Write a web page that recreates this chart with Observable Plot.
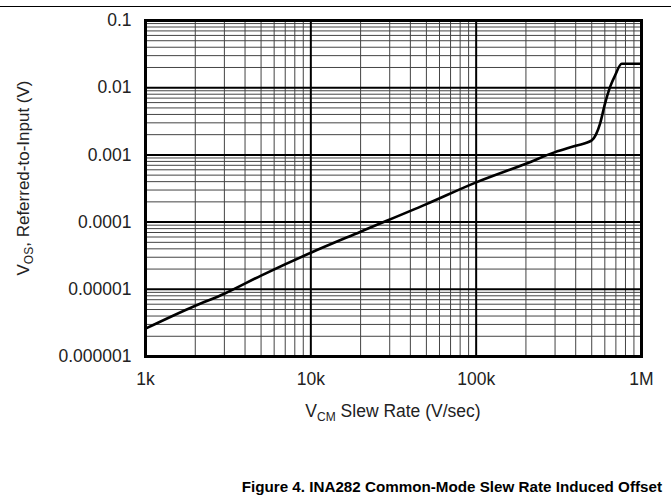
<!DOCTYPE html>
<html>
<head>
<meta charset="utf-8">
<script src="https://cdn.jsdelivr.net/npm/d3@7"></script>
<script src="https://cdn.jsdelivr.net/npm/@observablehq/plot@0.6"></script>
<style>
  html, body { margin: 0; padding: 0; background: #fff; }
  #wrap { position: relative; width: 671px; height: 504px; font-family: "Liberation Sans", Arial, sans-serif; }
  #rule { position: absolute; left: 0; top: 6px; width: 671px; height: 0; border-top: 1.3px solid #000; }
  #chart { position: absolute; left: 0; top: 0; }
  .lbl { position: absolute; font-size: 17px; color: #222; white-space: nowrap; }
  .lbl sub { font-size: 12px; vertical-align: -4px; line-height: 0; }
  #xlabel { left: 393px; top: 401px; font-size: 17.5px; transform: translateX(-50%); }
  #ylabel { left: 24px; top: 178px; transform: translate(-50%, -50%) rotate(-90deg); }
  #title { position: absolute; right: 9px; top: 478px; font-size: 15.2px; font-weight: bold; color: #000; white-space: nowrap; }
</style>
</head>
<body>
<div id="wrap">
  <div id="chart"></div>
  <div id="rule"></div>
  <div class="lbl" id="xlabel">V<sub>CM</sub> Slew Rate (V/sec)</div>
  <div class="lbl" id="ylabel">V<sub>OS</sub>, Referred-to-Input (V)</div>
  <div id="title">Figure 4. INA282 Common-Mode Slew Rate Induced Offset</div>
</div>
<script>
// Slew rate (V/sec)
const slewRate = [1000, 2000, 3000, 5000, 10000, 20000, 50000, 100000, 200000, 300000, 400000, 500000, 530000, 561000, 601000, 645000, 692000, 759000, 1000000];
// Offset referred to input (V)
const vos = [2.6e-6, 5.7e-6, 8.6e-6, 1.6e-5, 3.5e-5, 7.2e-5, 1.85e-4, 3.9e-4, 7.4e-4, 1.1e-3, 1.37e-3, 1.64e-3, 2.0e-3, 2.9e-3, 5.75e-3, 1.02e-2, 1.52e-2, 2.27e-2, 2.27e-2];

const xTicks = [1e3, 1e4, 1e5, 1e6];
const xTickLabels = ["1k", "10k", "100k", "1M"];
const yTicks = [1e-6, 1e-5, 1e-4, 1e-3, 1e-2, 1e-1];
const yTickLabels = ["0.000001", "0.00001", "0.0001", "0.001", "0.01", "0.1"];
const minorMultipliers = [2, 3, 4, 5, 6, 7, 8, 9];

const xMinor = xTicks.slice(0, -1).flatMap(d => minorMultipliers.map(m => d * m));
const yMinor = yTicks.slice(0, -1).flatMap(d => minorMultipliers.map(m => d * m));
const data = slewRate.map((x, i) => ({x, y: vos[i]}));

const xFmt = d => xTickLabels[xTicks.indexOf(d)];
const yFmt = d => yTickLabels[yTicks.indexOf(d)];

const chart = Plot.plot({
  width: 671,
  height: 440,
  marginLeft: 145,
  marginRight: 30,
  marginTop: 20,
  marginBottom: 84,
  style: { fontFamily: "Liberation Sans, Arial, sans-serif", fontSize: "17.5px", color: "#222", background: "transparent" },
  x: { type: "log", domain: [1e3, 1e6] },
  y: { type: "log", domain: [1e-6, 1e-1] },
  marks: [
    Plot.ruleX(xMinor, { stroke: "#444", strokeWidth: 1 }),
    Plot.ruleY(yMinor, { stroke: "#444", strokeWidth: 1 }),
    Plot.ruleX(xTicks, { stroke: "#000", strokeWidth: 2 }),
    Plot.ruleY(yTicks, { stroke: "#000", strokeWidth: 2 }),
    Plot.frame({ stroke: "#000", strokeWidth: 3 }),
    Plot.line(data, { x: "x", y: "y", stroke: "#000", strokeWidth: 2.6, curve: "monotone-x" }),
    Plot.axisX(xTicks, { tickSize: 0, tickPadding: 16, tickFormat: xFmt, label: null, fontSize: 17.5 }),
    Plot.axisY(yTicks, { tickSize: 0, tickPadding: 14, tickFormat: yFmt, label: null, fontSize: 17.5 })
  ]
});
document.getElementById("chart").appendChild(chart);
</script>
</body>
</html>
